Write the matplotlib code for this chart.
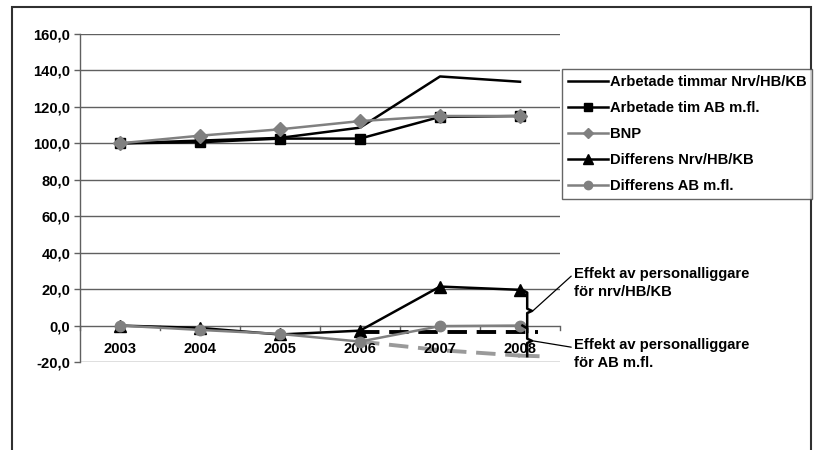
import matplotlib
matplotlib.use("Agg")
import matplotlib.pyplot as plt
from matplotlib.patches import Rectangle
import numpy as np

plt.rcParams['font.family'] = ['Liberation Sans', 'DejaVu Sans']
plt.rcParams['font.weight'] = 'bold'

years = ["2003", "2004", "2005", "2006", "2007", "2008"]
tim_nrv = [100.0, 101.5, 103.0, 108.6, 136.7, 133.8]
tim_ab = [100.0, 100.6, 102.6, 102.6, 114.5, 115.0]
bnp = [100.0, 104.2, 107.7, 112.2, 115.0, 115.0]
diff_nrv = [0.0, -1.3, -4.9, -2.8, 21.4, 19.6]
diff_ab = [0.0, -2.4, -4.6, -8.8, -0.3, 0.0]
# projected (dashed) trends from 2006
proj_nrv = [-3.5, -3.5, -3.5]
proj_ab = [-8.8, -13.5, -16.8]
proj_x = [3, 4, 5.22]
yticks = [-20, 0, 20, 40, 60, 80, 100, 120, 140, 160]

labels = ["Arbetade timmar Nrv/HB/KB", "Arbetade tim AB m.fl.", "BNP",
          "Differens Nrv/HB/KB", "Differens AB m.fl."]
ann1 = "Effekt av personalliggare\nför nrv/HB/KB"
ann2 = "Effekt av personalliggare\nför AB m.fl."

FS = 10.6
W, H = 817, 450
fig = plt.figure(figsize=(W / 100, H / 100), dpi=100)
ax = fig.add_axes([80 / W, 1 - 362 / H, 480 / W, 328 / H])

GRAY = '#808080'
x = np.arange(len(years))

# grid
for v in yticks:
    ax.axhline(v, color='#606060', lw=1.0, zorder=1)

ax.plot(proj_x, proj_nrv, color='black', lw=2.8, ls=(0, (5, 2.5)), zorder=2)
ax.plot([proj_x[0], 4, 5], proj_ab[:2] + [proj_ab[2] + 0.3], color='#9a9a9a', lw=2.8, ls=(0, (5, 2.5)), zorder=2)
ax.plot([5, proj_x[2]], [proj_ab[2] + 0.3, proj_ab[2]], color='#9a9a9a', lw=2.8, zorder=2)

l1, = ax.plot(x, tim_nrv, color='black', lw=1.8, zorder=4)
l2, = ax.plot(x, tim_ab, color='black', lw=1.8, marker='s', ms=7.5, zorder=4)
l3, = ax.plot(x, bnp, color=GRAY, lw=1.8, marker='D', ms=7, zorder=5)
l4, = ax.plot(x, diff_nrv, color='black', lw=1.8, marker='^', ms=8.5, zorder=4)
l5, = ax.plot(x, diff_ab, color=GRAY, lw=1.8, marker='o', ms=7.5, zorder=5)

# braces
bx = 5.09
top1, bot1 = diff_nrv[-1], proj_nrv[-1]
mid1 = (top1 + bot1) / 2
top2, bot2 = diff_ab[-1], proj_ab[-1]
mid2 = (top2 + bot2) / 2
for top, bot, mid in [(top1, bot1, mid1), (top2, bot2, mid2)]:
    ax.plot([bx - 0.06, bx, bx, bx + 0.06, bx, bx],
            [top, top - 1.5, mid + 1.2, mid, mid - 1.2, bot],
            color='black', lw=1.8, zorder=6, clip_on=False)

ax.annotate(ann1, xy=(bx + 0.07, mid1), xytext=(574 / W, 1 - 283 / H),
            textcoords='figure fraction', fontsize=FS, fontweight='bold',
            va='center', ha='left', linespacing=1.3,
            arrowprops=dict(arrowstyle='-', lw=0.9, color='black',
                            shrinkA=0, shrinkB=0, relpos=(0, 0.8)),
            annotation_clip=False)
ax.annotate(ann2, xy=(bx + 0.07, mid2), xytext=(574 / W, 1 - 354 / H),
            textcoords='figure fraction', fontsize=FS, fontweight='bold',
            va='center', ha='left', linespacing=1.35,
            arrowprops=dict(arrowstyle='-', lw=0.9, color='black',
                            shrinkA=0, shrinkB=0, relpos=(0, 0.7)),
            annotation_clip=False)

ax.set_xlim(-0.5, len(years) - 0.5)
ax.set_ylim(yticks[0], yticks[-1])
ax.set_yticks(yticks)
ax.set_yticklabels([f"{v:.1f}".replace('.', ',') for v in yticks], fontsize=FS, fontweight='bold')
ax.tick_params(axis='y', length=4, width=1, color='#606060', pad=3)
ax.set_xticks([])
for s in ['top', 'right', 'bottom']:
    ax.spines[s].set_visible(False)
ax.spines['left'].set_color('#606060')
ax.spines['left'].set_linewidth(1.0)

# category axis at y=0 with ticks between categories
for b in np.arange(-0.5, len(years), 1.0):
    ax.plot([b, b], [0, -2.2], color='#606060', lw=1.0, zorder=1, clip_on=False)
for i, yr in enumerate(years):
    ax.text(i, -13.0, yr, ha='center', va='center', fontsize=FS, fontweight='bold', zorder=3)

leg = fig.legend([l1, l2, l3, l4, l5], labels, loc='upper left',
                 bbox_to_anchor=(562 / W, 1 - 69 / H),
                 prop={'weight': 'bold', 'size': FS},
                 frameon=True, fancybox=False, handlelength=2.7,
                 handletextpad=0.15, labelspacing=0.82, borderpad=0.4,
                 borderaxespad=0, markerscale=0.8)
leg.get_frame().set_edgecolor('#404040')
leg.get_frame().set_linewidth(1.0)

fig.patches.append(Rectangle((12 / W, -0.1), 799 / W, 1.1 - 7 / H, transform=fig.transFigure,
                             fill=False, edgecolor='#303030', lw=1.5, clip_on=False))

fig.savefig("out.png", dpi=100)
